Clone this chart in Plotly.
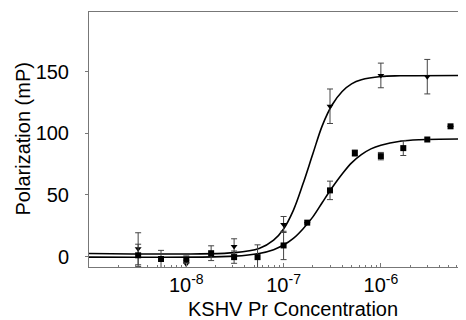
import plotly.graph_objects as go

# ---- data ----
sq_conc = [3.2e-9, 5.5e-9, 1.0e-8, 1.8e-8, 3.1e-8, 5.4e-8, 1.0e-7, 1.75e-7,
           3.0e-7, 5.4e-7, 1.0e-6, 1.7e-6, 3.0e-6, 5.2e-6]
sq_pol = [1, -2, -2.5, 2.7, -0.5, -0.5, 9, 27.5, 53.7, 84, 81.5, 88, 95, 105.7]
sq_err = [9, 7, 3, 6, 5, 10, 11.5, 0, 7.5, 2.5, 3, 6, 0, 0]

tri_conc = [3.2e-9, 1.0e-8, 3.1e-8, 1.0e-7, 3.0e-7, 1.0e-6, 3.0e-6]
tri_pol = [6.3, -6, 8.1, 26, 122, 147, 146]
tri_err = [13, 3, 6.3, 6.5, 14, 10, 14]

# fitted curves
tri_fit_conc = [1e-9, 3.16e-8, 5.6e-8, 7.9e-8, 1.0e-7, 1.26e-7, 1.58e-7, 2.0e-7,
                2.5e-7, 3.16e-7, 4.0e-7, 5.0e-7, 6.3e-7, 1.0e-6, 1.58e-6, 7.5e-6]
tri_fit_pol = [2.5, 3.2, 6.5, 13.3, 22.4, 37.5, 58.8, 83.4,
               106.3, 123.2, 134, 140.2, 143.5, 146.1, 146.7, 147]

sq_fit_conc = [1e-9, 3.16e-8, 5.6e-8, 7.9e-8, 1.0e-7, 1.26e-7, 1.58e-7, 2.0e-7,
               2.5e-7, 3.16e-7, 4.0e-7, 5.0e-7, 6.3e-7, 7.9e-7, 1.0e-6, 1.58e-6,
               2.5e-6, 7.5e-6]
sq_fit_pol = [-0.5, 0.35, 2.5, 5.6, 9.3, 14.7, 22.4, 32.2,
              43.9, 56, 67, 76, 82.7, 87.4, 90.4, 93.6, 94.8, 95.4]

x_tickvals = [1e-8, 1e-7, 1e-6]
x_ticktext = ["10<sup>-8</sup>", "10<sup>-7</sup>", "10<sup>-6</sup>"]
y_tickvals = [0, 50, 100, 150]

FONT = "Liberation Sans, Arial, sans-serif"

fig = go.Figure()

fig.add_trace(go.Scatter(x=tri_fit_conc, y=tri_fit_pol, mode="lines",
                         line=dict(color="black", width=1.6, shape="spline", smoothing=1.0),
                         hoverinfo="skip", showlegend=False))
fig.add_trace(go.Scatter(x=sq_fit_conc, y=sq_fit_pol, mode="lines",
                         line=dict(color="black", width=1.6, shape="spline", smoothing=1.0),
                         hoverinfo="skip", showlegend=False))

fig.add_trace(go.Scatter(x=tri_conc, y=tri_pol, mode="markers",
                         marker=dict(symbol="triangle-down", size=6, color="black"),
                         error_y=dict(type="data", array=tri_err, color="#444",
                                      thickness=1, width=3),
                         showlegend=False))
fig.add_trace(go.Scatter(x=sq_conc, y=sq_pol, mode="markers",
                         marker=dict(symbol="square", size=6, color="black"),
                         error_y=dict(type="data", array=sq_err, color="#444",
                                      thickness=1, width=3),
                         showlegend=False))

# the page body adds an 8px offset, so the figure is 8px smaller on each side
fig.update_layout(
    width=458, height=312,
    margin=dict(l=81, r=0, t=4, b=53, autoexpand=False),
    paper_bgcolor="white", plot_bgcolor="white",
    font=dict(family=FONT, size=20, color="black"),
    xaxis=dict(type="log", range=[-9, -5.125], automargin=False,
               tickmode="array", tickvals=x_tickvals, ticktext=x_ticktext,
               ticks="inside", ticklen=4, tickcolor="#777",
               showline=True, linecolor="#777", linewidth=1, mirror=True,
               showgrid=False, zeroline=False,
               tickfont=dict(family=FONT, size=20),
               minor=dict(ticks="inside", ticklen=2, tickcolor="#777",
                          dtick="D1", showgrid=False)),
    yaxis=dict(range=[-8.5, 198.5], tickvals=y_tickvals, automargin=False,
               ticks="outside", ticklen=3, tickcolor="#777",
               showline=True, linecolor="#777", linewidth=1,
               showgrid=False, zeroline=False, ticklabelstandoff=12,
               tickfont=dict(family=FONT, size=20)),
    annotations=[
        dict(text="KSHV Pr Concentration", xref="paper", yref="paper",
             x=0.54, y=0, yshift=-42, xanchor="center", yanchor="middle",
             showarrow=False, font=dict(family=FONT, size=20)),
        dict(text="Polarization (mP)", xref="paper", yref="paper",
             x=0, xshift=-67, y=0.5, textangle=-90, xanchor="center",
             yanchor="middle", showarrow=False, font=dict(family=FONT, size=20)),
    ],
)

fig.write_html("out.html")
